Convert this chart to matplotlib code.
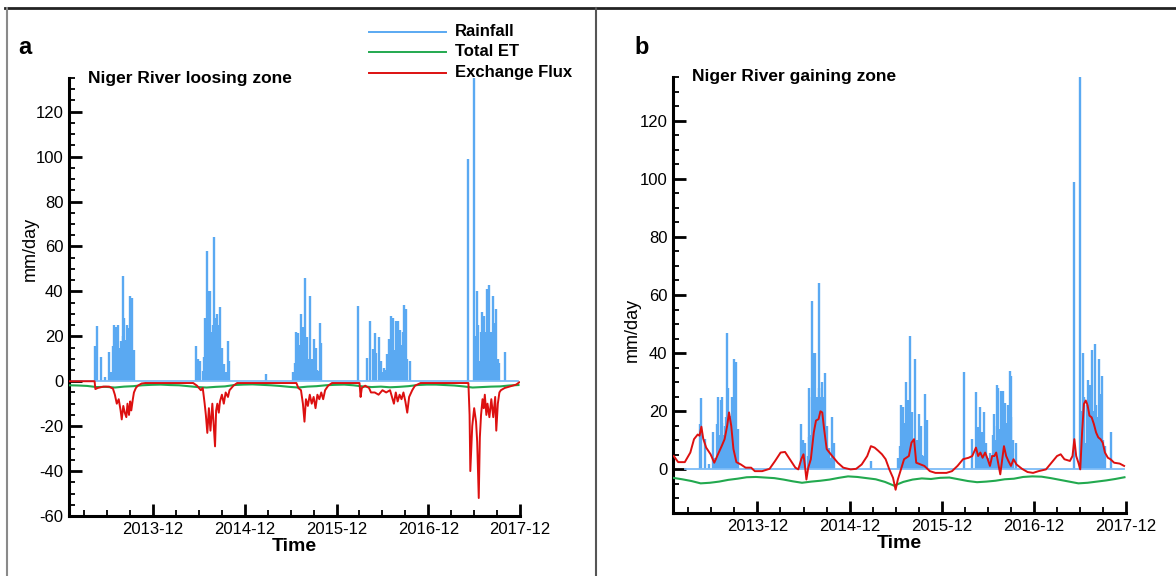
import numpy as np
import matplotlib
matplotlib.use('Agg')
import matplotlib.pyplot as plt
from matplotlib.lines import Line2D
from matplotlib.ticker import FixedLocator, MultipleLocator

plt.rcParams['font.family'] = ['Liberation Sans Narrow', 'Liberation Sans', 'DejaVu Sans']
plt.rcParams['axes.unicode_minus'] = False

# time is given in years after 2013-01-01
T0 = 2013.0

# daily rainfall (mm/day), same forcing for both zones
rain_t = [0.288, 0.3, 0.352, 0.388, 0.432, 0.456, 0.476, 0.492, 0.504, 0.516, 0.528, 0.536,
          0.548, 0.56, 0.572, 0.584, 0.592, 0.6, 0.608, 0.616, 0.628, 0.636, 0.648, 0.656,
          0.664, 0.676, 0.688, 0.704,
          1.388, 1.4, 1.408, 1.42, 1.432, 1.46, 1.472, 1.48, 1.492, 1.504, 1.512, 1.52,
          1.528, 1.536, 1.548, 1.56, 1.568, 1.58, 1.588, 1.596, 1.604, 1.612, 1.62, 1.628,
          1.64, 1.648, 1.66, 1.672, 1.692, 1.712, 1.728, 1.744,
          2.148, 2.44, 2.46, 2.472, 2.484, 2.496, 2.508, 2.52, 2.528, 2.54, 2.548, 2.56,
          2.568, 2.58, 2.592, 2.608, 2.62, 2.628, 2.636, 2.648, 2.66, 2.672, 2.688, 2.704,
          2.716, 2.74, 2.752,
          3.156, 3.248, 3.284, 3.312, 3.332, 3.352, 3.376, 3.4, 3.42, 3.436, 3.456, 3.472,
          3.484, 3.496, 3.512, 3.52, 3.528, 3.544, 3.56, 3.572, 3.584, 3.592, 3.604, 3.616,
          3.628, 3.64, 3.648, 3.656, 3.664, 3.672, 3.688, 3.72,
          4.348, 4.42, 4.432, 4.448, 4.46, 4.476, 4.488, 4.5, 4.512, 4.528, 4.54, 4.552,
          4.568, 4.584, 4.596, 4.608, 4.624, 4.632, 4.644, 4.66, 4.672, 4.688, 4.752]
rain_v = [15.6, 24.5, 10.6, 2, 13, 4, 15.6, 25, 12, 24, 16, 25,
          12, 15, 18, 47, 20, 28, 14, 18.5, 15, 25, 23.7, 12,
          38, 20, 37, 14,
          15.6, 8, 10, 6, 9, 4.6, 11, 28, 12, 58, 25, 40,
          20, 40, 22, 11, 25, 64, 28, 25, 22, 30, 20, 25,
          18, 33, 12, 15, 7.5, 4, 18, 9,
          3, 4, 8, 22, 10, 21.4, 12, 16, 30, 20, 24, 18,
          46, 15, 19.6, 3.5, 10, 38, 8, 10, 6, 19, 15, 5,
          4.6, 26, 17,
          33.5, 10.4, 26.6, 14.5, 21.6, 12.7, 19.6, 9, 4, 5.8, 5, 12,
          19, 10, 29, 15, 28, 14, 27, 16, 27, 18, 23, 16,
          14, 22, 20, 34, 18, 32, 10, 9,
          99, 135, 20, 40, 25, 9, 22, 30.6, 20, 29, 22, 41,
          20, 43, 22, 18, 38, 20, 26, 32, 10, 8, 13]

# loosing zone: exchange flux (mm/day)
flux_a_t = [0.0, 0.279, 0.2875, 0.3125, 0.375, 0.4375, 0.479, 0.5, 0.521, 0.542, 0.5625,
            0.575, 0.592, 0.608, 0.625, 0.6375, 0.654, 0.667, 0.679, 0.696, 0.708, 0.729,
            0.75, 0.792, 0.833, 1.125, 1.354, 1.396, 1.4375, 1.458, 1.479, 1.492, 1.508,
            1.525, 1.542, 1.5625, 1.575, 1.592, 1.604, 1.617, 1.633, 1.646, 1.667, 1.6875,
            1.708, 1.733, 1.75, 1.792, 1.833, 2.167, 2.479, 2.5, 2.529, 2.55, 2.567, 2.583,
            2.604, 2.625, 2.646, 2.667, 2.6875, 2.708, 2.729, 2.75, 2.771, 2.792, 2.825,
            2.867, 3.167, 3.179, 3.192, 3.229, 3.271, 3.292, 3.333, 3.375, 3.417, 3.458,
            3.5, 3.521, 3.542, 3.5625, 3.583, 3.604, 3.625, 3.646, 3.667, 3.6875, 3.708,
            3.742, 3.771, 3.833, 4.354, 4.367, 4.375, 4.396, 4.417, 4.4375, 4.45, 4.467,
            4.479, 4.492, 4.508, 4.521, 4.533, 4.55, 4.5625, 4.583, 4.604, 4.625, 4.646,
            4.658, 4.675, 4.692, 4.708, 4.75, 4.792, 4.833, 4.875, 4.908]
flux_a_v = [0, 0, -3.5, -3, -2.4, -2.4, -3.3, -6, -10, -8, -13,
            -17, -11, -14, -16, -10, -15, -9, -13, -8, -5, -3,
            -2, -1, -0.8, -0.8, -0.8, -2, -4, -3, -10, -15, -23,
            -12, -22, -10, -18, -29, -13, -10, -14, -9, -6, -10,
            -5, -7, -4, -2, -0.8, -0.8, -0.8, -3, -4, -10, -18, -8,
            -11, -6, -10, -7, -12, -6, -8, -5, -8, -4, -2,
            -0.8, -0.8, -7, -3, -2, -3, -5, -5, -6, -4, -5,
            -4, -7, -10, -5, -9, -6, -8, -5, -9, -14, -7,
            -4, -2, -0.8, -0.8, -15, -40, -20, -12, -18, -27, -52,
            -25, -15, -8, -12, -6, -15, -10, -16, -8, -16, -7,
            -22, -10, -5, -4, -3, -2.5, -2, -1.5, -0.5]

# total ET (mm/day)
et_t = [0.0, 0.1, 0.2, 0.3, 0.4, 0.5, 0.6, 0.7, 0.8, 0.9, 1.0, 1.1, 1.2, 1.3, 1.4, 1.5,
        1.6, 1.7, 1.8, 1.9, 2.0, 2.1, 2.2, 2.3, 2.4, 2.5, 2.6, 2.7, 2.8, 2.9, 3.0, 3.1,
        3.2, 3.3, 3.4, 3.5, 3.6, 3.7, 3.8, 3.9, 4.0, 4.1, 4.2, 4.3, 4.4, 4.5, 4.6, 4.7,
        4.8, 4.9]
et_a_v = [-1.8, -1.9, -2.1, -2.6, -2.5, -2.8, -2.4, -2.2, -1.8, -1.6, -1.5, -1.7, -1.8,
          -2.2, -2.6, -2.8, -2.5, -2.3, -1.7, -1.5, -1.4, -1.6, -1.8, -2.1, -2.5, -2.8,
          -2.4, -2.2, -1.8, -1.6, -1.5, -1.8, -2.3, -2.6, -2.4, -2.7, -2.5, -2.2, -1.7,
          -1.5, -1.5, -1.7, -1.9, -2.3, -2.8, -2.6, -2.4, -2.3, -1.9, -1.7]
et_b_v = [-2.9, -3.4, -4.0, -4.8, -4.6, -4.2, -3.6, -3.2, -2.7, -2.6, -2.8, -3.0, -3.5,
          -4.1, -4.6, -4.2, -3.9, -3.5, -2.9, -2.4, -2.6, -3.0, -3.4, -4.3, -5.6, -4.3,
          -3.5, -3.1, -3.3, -2.9, -2.8, -3.4, -4.0, -4.4, -4.2, -3.9, -3.4, -3.2, -2.6,
          -2.4, -2.5, -3.0, -3.6, -4.2, -4.8, -4.6, -4.2, -3.8, -3.3, -2.7]

# gaining zone: exchange flux (mm/day)
flux_b_t = [0.008, 0.056, 0.128, 0.188, 0.228, 0.268, 0.288, 0.308, 0.328, 0.36, 0.408,
            0.448, 0.488, 0.528, 0.56, 0.588, 0.608, 0.632, 0.656, 0.688, 0.736, 0.788,
            0.848, 0.888, 0.968, 1.048, 1.108, 1.168, 1.216, 1.268, 1.328, 1.36, 1.392,
            1.416, 1.432, 1.448, 1.468, 1.496, 1.528, 1.552, 1.58, 1.6, 1.62, 1.64, 1.668,
            1.728, 1.788, 1.848, 1.928, 1.988, 2.048, 2.108, 2.148, 2.188, 2.228, 2.268,
            2.308, 2.348, 2.388, 2.416, 2.44, 2.468, 2.508, 2.56, 2.588, 2.616, 2.64,
            2.688, 2.728, 2.788, 2.848, 2.968, 3.028, 3.088, 3.148, 3.208, 3.248, 3.288,
            3.312, 3.336, 3.36, 3.388, 3.416, 3.44, 3.464, 3.488, 3.508, 3.528, 3.552,
            3.576, 3.592, 3.616, 3.64, 3.668, 3.696, 3.728, 3.788, 3.848, 3.908, 3.968,
            4.048, 4.108, 4.168, 4.208, 4.248, 4.308, 4.336, 4.356, 4.376, 4.4, 4.42,
            4.44, 4.46, 4.48, 4.5, 4.52, 4.544, 4.568, 4.592, 4.616, 4.64, 4.664, 4.688,
            4.72, 4.748, 4.788, 4.848, 4.896]
flux_b_v = [4.6, 2.5, 2.5, 5.8, 10.4, 12, 11.6, 14.7, 10.6, 7.5, 5.2,
            2.3, 5.2, 8, 10.4, 15, 19.6, 15, 7, 2.5, 1.7, 0.6,
            0.6, -0.6, -0.6, 0.2, 2.9, 5.8, 6, 3.5, 0.6, 0, 3.5,
            5.2, 1.2, -3.5, 0.6, 3.5, 12.7, 16.8, 17.3, 20, 19.6, 13.9, 7,
            4.6, 2.3, 0.6, 0, 0.2, 1.7, 4.6, 8, 7.5, 6.4, 5.2,
            3.5, 0, -2.9, -7, -3.5, -0.6, 3.5, 4.6, 9.2, 10.4, 2.3,
            1.7, 1.2, -0.6, -1.2, -1.2, -0.6, 1.2, 3.5, 4, 4.6, 7.5,
            4.6, 5.8, 4, 5.8, 3.5, 1.2, 4.6, 4.6, 5.8, 2.3, -1.7,
            4, 8, 4.6, 2.9, 1.2, 3.5, 1.7, 0.2, -0.9, -1.2, -0.6,
            0, 2.3, 4.6, 5.2, 3.5, 2.9, 4.6, 10.4, 4.6, 2.3, 0,
            12.7, 22.5, 23.7, 22, 18.5, 17.9, 15.6, 12.7, 11, 10.4, 9.2, 5.8,
            4, 3.5, 2.3, 2, 1.2]

year_labels = ['2013-12', '2014-12', '2015-12', '2016-12', '2017-12']

c_rain = '#5aa9f2'
c_et = '#22a94f'
c_flux = '#dd1010'

W, H = 1176, 576
fig = plt.figure(figsize=(W / 100, H / 100), dpi=100)


def px(x, y):
    return x / W, 1 - y / H


def panel(rect, et_v, flux_t, flux_v, ylo, base_start, title, title_xy, ylab_xy):
    ax = fig.add_axes(rect)
    ax.vlines(T0 + np.array(rain_t), 0, rain_v, color=c_rain, lw=1.7, zorder=2)
    ax.plot([T0 + base_start, T0 + 4.9], [0, 0], color='#7dbcf7', lw=1.3, zorder=2)
    ax.plot(T0 + np.array(et_t), et_v, color=c_et, lw=1.5, zorder=3)
    ax.plot(T0 + np.array(flux_t), flux_v, color=c_flux, lw=1.4, zorder=4)

    ax.set_xlim(T0, T0 + 11 / 12 + 4)
    ax.set_ylim(ylo, 135)
    for s in ['top', 'right']:
        ax.spines[s].set_visible(False)
    for s in ['left', 'bottom']:
        ax.spines[s].set_linewidth(2.2)
    majors = [T0 + 11 / 12 + k for k in range(5)]
    ax.xaxis.set_major_locator(FixedLocator(majors))
    ax.set_xticklabels(year_labels)
    ax.xaxis.set_minor_locator(FixedLocator([T0 + 2 / 12 + 0.25 * k for k in range(19)]))
    ax.yaxis.set_major_locator(MultipleLocator(20))
    ax.yaxis.set_minor_locator(MultipleLocator(5))
    ax.tick_params(which='major', direction='in', length=9, width=2, labelsize=12, pad=4)
    ax.tick_params(which='minor', direction='in', length=4.5, width=1.3)
    ax.set_xlabel('Time', fontweight='bold', fontsize=14, labelpad=1)
    ax.set_ylabel('mm/day', fontsize=13)
    ax.yaxis.set_label_coords(*ylab_xy)
    fig.text(*px(*title_xy), title, fontsize=12.5, fontweight='bold', va='center', ha='left')
    return ax


panel([69 / W, 1 - 516 / H, 451 / W, 438 / H], et_a_v, flux_a_t, flux_a_v, -60, 0.0,
      'Niger River loosing zone', (88, 78), (-0.068, 0.61))
panel([673 / W, 1 - 513 / H, 453 / W, 436 / H], et_b_v, flux_b_t, flux_b_v, -15, 0.13,
      'Niger River gaining zone', (692, 77), (-0.072, 0.42))

# panel letters
fig.text(*px(18, 48), 'a', fontsize=17, fontweight='bold', va='center',
         family=['Liberation Sans', 'DejaVu Sans'])
fig.text(*px(634, 48), 'b', fontsize=17, fontweight='bold', va='center',
         family=['Liberation Sans', 'DejaVu Sans'])

# legend
for yy, lab, col in [(32, 'Rainfall', c_rain), (52, 'Total ET', c_et), (73, 'Exchange Flux', c_flux)]:
    x0, y0 = px(369, yy)
    x1, _ = px(446, yy)
    fig.add_artist(Line2D([x0, x1], [y0, y0], color=col, lw=1.4))
    fig.text(*px(455, yy), lab, fontsize=12, fontweight='bold', va='center', ha='left')

# panel frames
fig.add_artist(Line2D([5 / W, 1], [1 - 8 / H, 1 - 8 / H], color='#222222', lw=2))
fig.add_artist(Line2D([7 / W, 7 / W], [0, 1 - 8 / H], color='#8a8a8a', lw=1.5))
fig.add_artist(Line2D([596 / W, 596 / W], [0, 1 - 8 / H], color='#555555', lw=1.5))

fig.savefig('out.png', dpi=100, facecolor='white')
